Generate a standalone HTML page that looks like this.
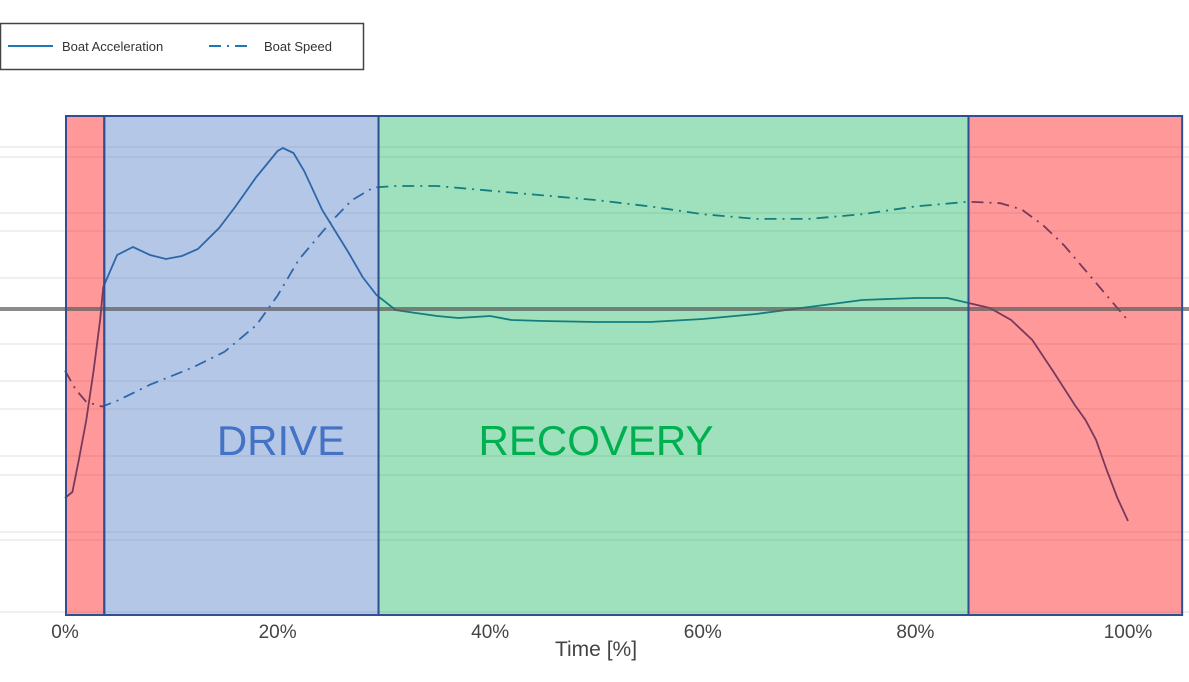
<!DOCTYPE html>
<html><head><meta charset="utf-8"><style>
html,body{margin:0;padding:0;background:#fff;}
svg{display:block;font-family:"Liberation Sans",sans-serif;}
</style></head><body>
<svg id="chart" width="1189" height="682" viewBox="0 0 1189 682" xmlns="http://www.w3.org/2000/svg">
<g id="grid"></g>
<g id="lines"></g>
<g id="regions"></g>
<line x1="0" x2="1189" y1="309" y2="309" stroke="rgba(90,90,90,0.7)" stroke-width="4"/>
<g id="borders"></g>
<text x="281" y="455" text-anchor="middle" font-size="42" fill="#4472c4">DRIVE</text>
<text x="596" y="455" text-anchor="middle" font-size="42" fill="#00b050">RECOVERY</text>
<g id="xticks"></g>
<text x="596" y="656" text-anchor="middle" font-size="21" fill="#444">Time [%]</text>
<g>
<rect x="0.5" y="23.5" width="363" height="46" fill="#fff" stroke="#444" stroke-width="1.5"/>
<line x1="8" x2="53" y1="46" y2="46" stroke="#1f77b4" stroke-width="2"/>
<text x="62" y="51" font-size="13" fill="#333">Boat Acceleration</text>
<line x1="209" x2="252" y1="46" y2="46" stroke="#1f77b4" stroke-width="2" stroke-dasharray="12,6,2,6"/>
<text x="264" y="51" font-size="13" fill="#333">Boat Speed</text>
</g>
</svg>
<script>
const accelT = [0,0.7,1.3,2,2.7,3.3,3.6,4.9,6.4,8,9.5,11,12.5,14.5,16,18,20,20.5,21.5,22.5,24.2,26.7,28,29.3,31.1,33,35,37,40,42,45,50,55,60,65,70,75,80,83,85,87,89,91,93,95,96,97,98,99,100];
const accelV = [-18.9,-18.3,-15.1,-11.1,-6.1,-1.1,2.2,5.4,6.2,5.4,5.0,5.3,6.0,8.1,10.2,13.2,15.8,16.1,15.6,13.8,9.9,5.6,3.2,1.4,-0.1,-0.4,-0.7,-0.9,-0.7,-1.1,-1.2,-1.3,-1.3,-1.0,-0.5,0.2,0.9,1.1,1.1,0.6,0.1,-1.1,-3.1,-6.3,-9.6,-11.1,-13.1,-16.1,-18.9,-21.2];
const speedT = [0,1,2,3.5,5,8,12,15,18,20,22,25,27,29,31,35,40,45,50,55,60,65,70,75,80,85,88,90,92,94,96,98,100];
const speedV = [4.02,3.90,3.82,3.79,3.83,3.93,4.04,4.14,4.31,4.50,4.73,4.97,5.11,5.19,5.20,5.20,5.17,5.14,5.11,5.07,5.02,4.99,4.99,5.02,5.07,5.10,5.09,5.05,4.95,4.82,4.66,4.50,4.34];
const phaseStart = [0,3.6,29.4,84.9];
const phaseEnd = [3.6,29.4,84.9,105];
const phaseNames = ['catch','drive','recovery','pre-catch'];
const xTicks = [0,20,40,60,80,100];
const gridY = [147,157,213,231,278,344,381,409,456,475,532,540,612];

const NS='http://www.w3.org/2000/svg';
const x = t => 65 + t*10.63;
const yA = a => 309 - a*10;
const yS = s => 405 - (s-3.8)*156.4;
function mk(tag, attrs, parent){const e=document.createElementNS(NS,tag);for(const k in attrs)e.setAttribute(k,attrs[k]);parent.appendChild(e);return e;}

const grid=document.getElementById('grid');
gridY.forEach(g=>{
  const l=mk('line',{x1:0,x2:1189,y1:g,y2:g,stroke:'#ebebeb','stroke-width':1.5},grid);
  
  
});

const lines=document.getElementById('lines');
const pa=mk('path',{d:accelT.map((t,i)=>(i?'L':'M')+x(t).toFixed(1)+','+yA(accelV[i]).toFixed(1)).join(''),fill:'none',stroke:'#1f5f9a','stroke-width':1.8},lines);


const ps=mk('path',{d:speedT.map((t,i)=>(i?'L':'M')+x(t).toFixed(1)+','+yS(speedV[i]).toFixed(1)).join(''),fill:'none',stroke:'#1f5f9a','stroke-width':1.8,'stroke-dasharray':'12,6,2,6'},lines);



const fills=['rgba(255,0,0,0.4)','rgba(68,114,196,0.4)','rgba(0,176,80,0.38)','rgba(255,0,0,0.4)'];
const regions=document.getElementById('regions'), borders=document.getElementById('borders');
phaseStart.forEach((s,i)=>{
  const r=mk('rect',{x:x(s)+1,y:116,width:x(phaseEnd[i])-x(s),height:499,fill:fills[i]},regions);
  
  
  const b=mk('rect',{x:x(s)+1,y:116,width:x(phaseEnd[i])-x(s),height:499,fill:'none',stroke:'#2f4f95','stroke-width':2},borders);
  
  
});

const xt=document.getElementById('xticks');
xTicks.forEach(t=>{
  const tx=mk('text',{x:x(t),y:638,'text-anchor':'middle','font-size':19,fill:'#444'},xt);
  tx.textContent=t+'%';
  
  
});
</script>
</body></html>
